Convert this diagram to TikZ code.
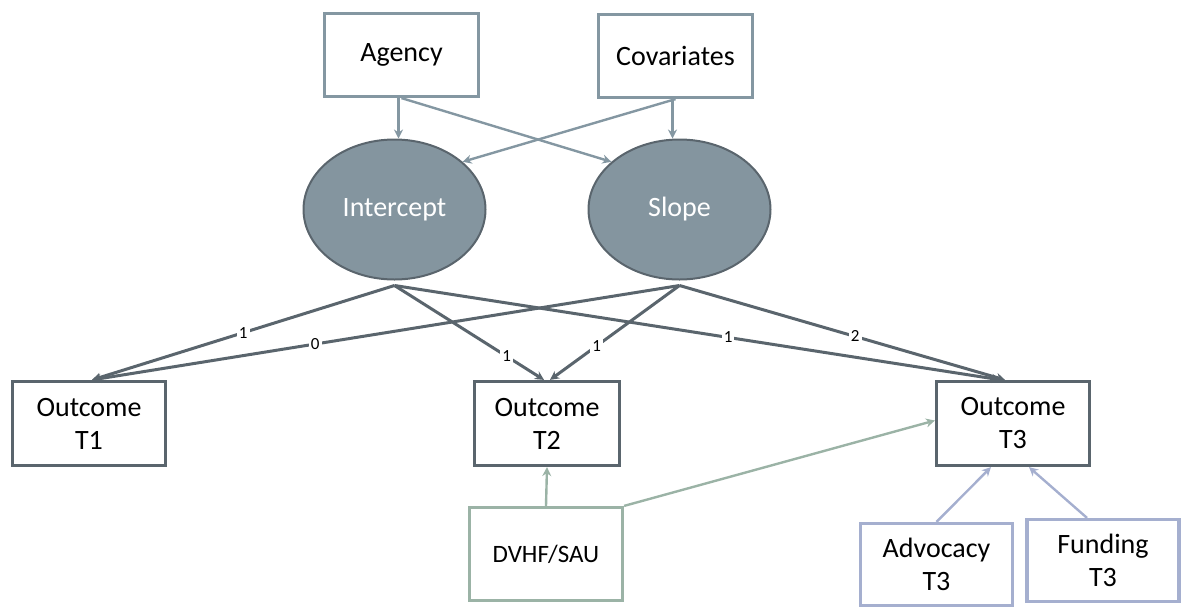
\documentclass[tikz,border=0pt]{standalone}
\usepackage{fontspec}
\setmainfont{Carlito}
\usepackage{tikz}
\usetikzlibrary{positioning, calc, shapes, arrows.meta}

\definecolor{topgray}{HTML}{8497A2}
\definecolor{latfill}{HTML}{84959F}
\definecolor{darkslate}{HTML}{5A656D}
\definecolor{sagegreen}{HTML}{9BB3A6}
\definecolor{lavender}{HTML}{A5AFCF}

\begin{document}
\begin{tikzpicture}[x=0.5pt, y=-0.5pt]
  \tikzstyle{predbox}=[draw=topgray, line width=1.6pt, minimum width=77pt, minimum height=41.5pt,
  font=\fontsize{14}{16.5}\selectfont, align=center]
  \tikzstyle{latent}=[ellipse, draw=darkslate, fill=latfill, line width=1pt, minimum width=91pt,
  minimum height=70pt, text=white, font=\fontsize{14}{16.5}\selectfont]
  \tikzstyle{outbox}=[draw=darkslate, line width=1.6pt, minimum width=76.5pt, minimum height=42pt,
  font=\fontsize{14}{16.5}\selectfont, align=center]
  \tikzstyle{trtbox}=[draw=sagegreen, line width=1.6pt, minimum width=76.5pt, minimum height=46.5pt,
  font=\fontsize{12.5}{15}\selectfont, align=center]
  \tikzstyle{tvcbox}=[draw=lavender, line width=1.6pt, minimum width=76pt, minimum height=41pt,
  font=\fontsize{14}{16.5}\selectfont, align=center]
  \tikzstyle{load}=[draw=darkslate, line width=1.5pt, -{Stealth[length=4.5pt, width=4.5pt]}]
  \tikzstyle{pred}=[draw=topgray, line width=1.2pt, -{Stealth[length=4.5pt, width=4.5pt]}]
  \tikzstyle{trt}=[draw=sagegreen, line width=1.2pt, -{Stealth[length=4.5pt, width=4.5pt]}]
  \tikzstyle{tvc}=[draw=lavender, line width=1.2pt, -{Stealth[length=4.5pt, width=4.5pt]}]
  \tikzstyle{wt}=[fill=white, inner sep=1pt, font=\fontsize{8.5}{10}\selectfont]

  \useasboundingbox (0,0) rectangle (1185,606);

  % predictors
  \node (agency) at (401.5, 55) [predbox] {Agency};
  \node (covar) at (675.5, 56) [predbox] {Covariates};

  % growth factors
  \node (icpt) at (394.5, 209.5) [latent] {Intercept};
  \node (slope) at (679.5, 209.5) [latent] {Slope};
  \coordinate (icptb) at ([yshift=-2.5pt]icpt.south);
  \coordinate (slopeb) at ([yshift=-2.5pt]slope.south);

  % repeated outcomes
  \node (out1) at (89, 423.5) [outbox] {Outcome\\T1};
  \node (out2) at (547, 423.5) [outbox, minimum width=72.5pt] {Outcome\\T2};
  \node (out3) at (1013, 423.5) [outbox] {Outcome\\T3};

  % treatment and time-varying covariates
  \node (dvhf) at (546, 554) [trtbox] {DVHF/SAU};
  \node (advo) at (936.5, 564.5) [tvcbox] {Advocacy\\T3};
  \node (fund) at (1103, 560.5) [tvcbox] {Funding\\T3};

  \draw[pred] ([xshift=-1.5pt]agency.south) -- ([xshift=-1.5pt]agency.south |- icpt.north);
  \draw[pred] (agency.south) -- (slope.145);
  \draw[pred] ([xshift=-1.5pt]covar.south) -- ([xshift=-1.5pt]covar.south |- slope.north);
  \draw[pred] (covar.south) -- (icpt.35);

  \draw[load] (icptb) -- node[wt, pos=0.5] {1} ([xshift=1.5pt]out1.north);
  \draw[load] (slopeb) -- node[wt, pos=0.62] {0} ([xshift=1.5pt]out1.north);
  \draw[load] (icptb) -- node[wt, pos=0.75] {1} ([xshift=-1.5pt]out2.north);
  \draw[load] (slopeb) -- node[wt, pos=0.64] {1} ([xshift=1.5pt]out2.north);
  \draw[load] (icptb) -- node[wt, pos=0.55] {1} ([xshift=-6pt]out3.north);
  \draw[load] (slopeb) -- node[wt, pos=0.54] {2} ([xshift=-4pt]out3.north);

  \draw[trt] (dvhf.north) -- (out2.south);
  \draw[trt] (dvhf.north east) -- ([yshift=1.5pt]out3.west);
  \draw[tvc] (advo.north) -- ([xshift=-11pt]out3.south);
  \draw[tvc] ([xshift=-8pt]fund.north) -- ([xshift=8pt]out3.south);
\end{tikzpicture}
\end{document}
